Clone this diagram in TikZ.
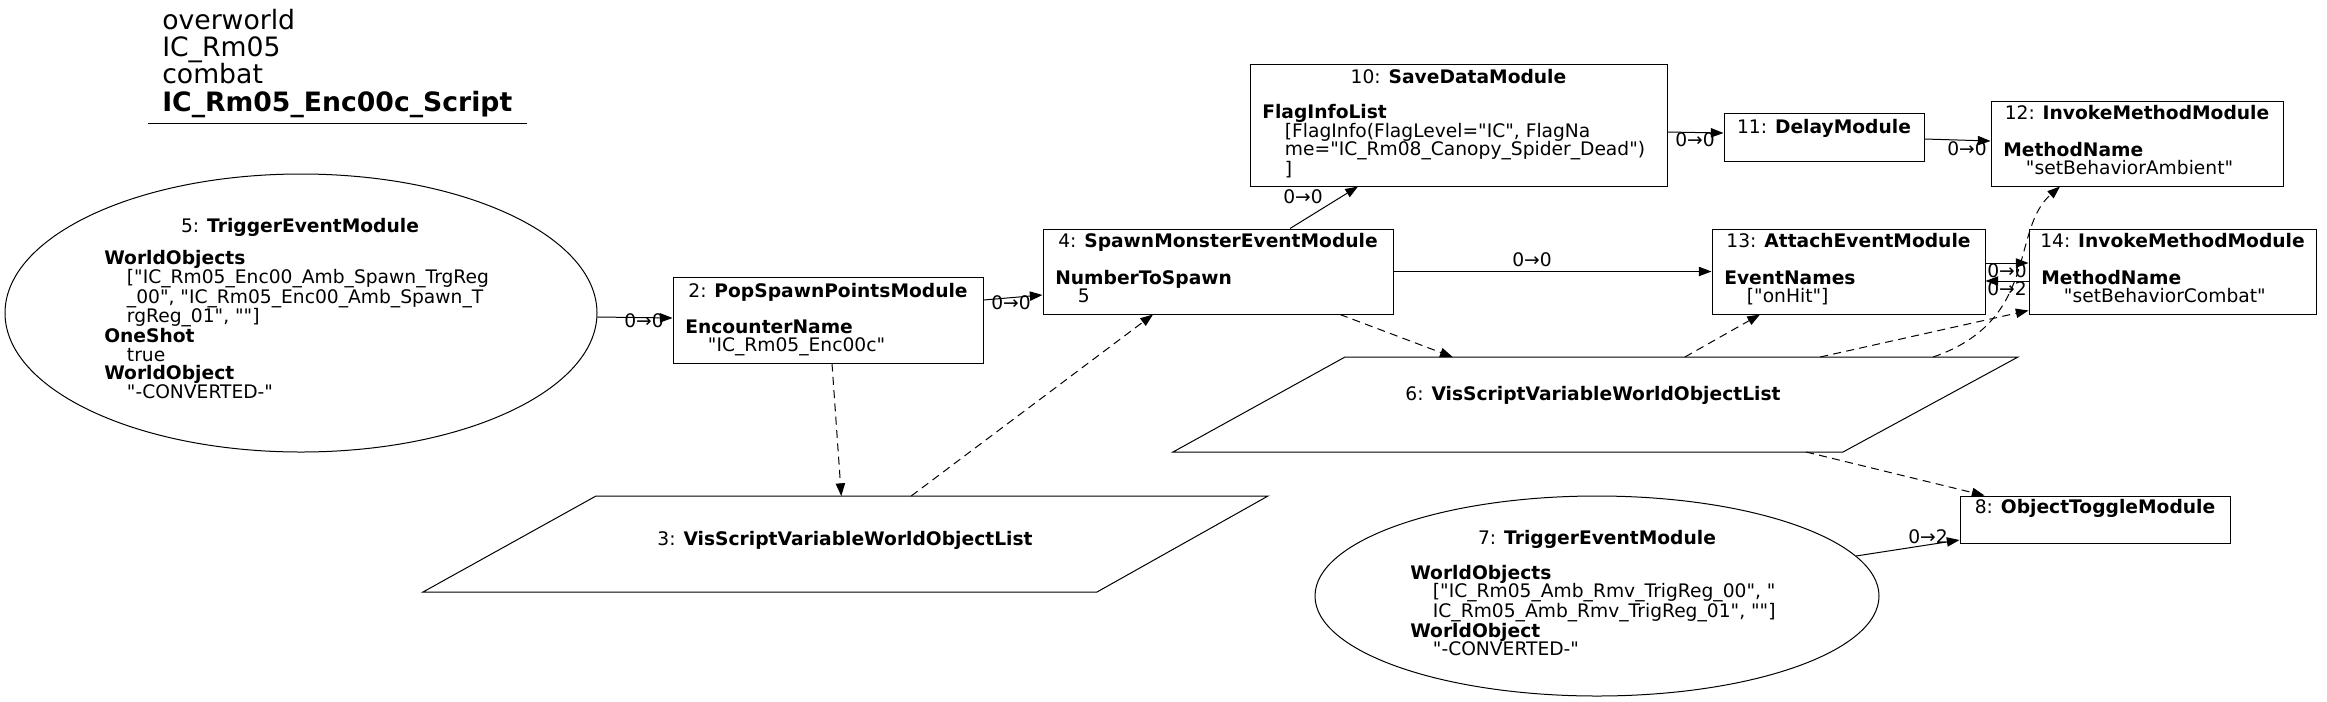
\documentclass[tikz,border=0pt]{standalone}
\usepackage{fontspec}
\setmainfont{DejaVu Sans}[Ligatures=TeXOff]
\usetikzlibrary{arrows.meta,calc,shapes.geometric}
\tikzset{
  shp/.style={draw, line width=0.75pt, inner sep=0pt},
  box/.style={shp, rectangle},
  oval/.style={shp, ellipse},
  txt/.style={inner sep=0pt, font=\fontsize{14pt}{13.85pt}\selectfont},
  body/.style={txt, align=left, anchor=base west},
  ttl/.style={txt, anchor=base},
  lbl/.style={txt, anchor=base},
  edge/.style={draw, line width=0.75pt, -{Triangle[length=9.5pt,width=7pt]}},
  dedge/.style={edge, dash pattern=on 6pt off 4pt},
}
\newcommand\ind{\hspace*{17pt}}
\begin{document}
\begin{tikzpicture}[x=0.75pt,y=-0.75pt]
\useasboundingbox (0,0) rectangle (2327,701);
% title (anchor = baseline of last line)
\node[anchor=base west, inner sep=0pt, align=left, font=\fontsize{20pt}{20.5pt}\selectfont] (title) at (162,111)
  {overworld\\IC\_Rm05\\combat\\\textbf{IC\_Rm05\_Enc00c\_Script}};
\draw[line width=0.75pt] (148,123) -- (527,123);

% node 5
\node[oval, minimum width=592*0.75pt, minimum height=278*0.75pt] (n5) at (301,313) {};
\node[ttl] (n5t) at (300,232) {5: \textbf{TriggerEventModule}};
\node[body] (n5b) at (104,398.3) {\textbf{WorldObjects}\\\ind["IC\_Rm05\_Enc00\_Amb\_Spawn\_TrgReg\\\ind\_00", "IC\_Rm05\_Enc00\_Amb\_Spawn\_T\\\ind rgReg\_01", ""]\\\textbf{OneShot}\\\ind true\\\textbf{WorldObject}\\\ind"-CONVERTED-"};

% node 2
\node[box, minimum width=310*0.75pt, minimum height=86*0.75pt] (n2) at (828,320) {};
\node[ttl] (n2t) at (828,297) {2: \textbf{PopSpawnPointsModule}};
\node[body] (n2b) at (685,351.5) {\textbf{EncounterName}\\\ind"IC\_Rm05\_Enc00c"};

% node 4
\node[box, minimum width=350*0.75pt, minimum height=85*0.75pt] (n4) at (1218,271.5) {};
\node[ttl] (n4t) at (1218,247) {4: \textbf{SpawnMonsterEventModule}};
\node[body] (n4b) at (1055,302.5) {\textbf{NumberToSpawn}\\\ind 5};

% node 10
\node[box, minimum width=417*0.75pt, minimum height=122*0.75pt] (n10) at (1458.5,125) {};
\node[ttl] (n10t) at (1458.5,83) {10: \textbf{SaveDataModule}};
\node[body] (n10b) at (1262,175.4) {\textbf{FlagInfoList}\\\ind[FlagInfo(FlagLevel="IC", FlagNa\\\ind me="IC\_Rm08\_Canopy\_Spider\_Dead")\\\ind]};

% node 11
\node[box, minimum width=200*0.75pt, minimum height=48*0.75pt] (n11) at (1824,137) {};
\node[ttl] (n11t) at (1824,133) {11: \textbf{DelayModule}};

% node 12
\node[box, minimum width=292*0.75pt, minimum height=85*0.75pt] (n12) at (2137,143.5) {};
\node[ttl] (n12t) at (2137,119) {12: \textbf{InvokeMethodModule}};
\node[body] (n12b) at (2003,174.5) {\textbf{MethodName}\\\ind"setBehaviorAmbient"};

% node 13
\node[box, minimum width=273*0.75pt, minimum height=85*0.75pt] (n13) at (1848.5,271.5) {};
\node[ttl] (n13t) at (1848.5,247) {13: \textbf{AttachEventModule}};
\node[body] (n13b) at (1724,302.5) {\textbf{EventNames}\\\ind["onHit"]};

% node 14
\node[box, minimum width=287*0.75pt, minimum height=85*0.75pt] (n14) at (2172.5,271.5) {};
\node[ttl] (n14t) at (2172.5,247) {14: \textbf{InvokeMethodModule}};
\node[body] (n14b) at (2041,302.5) {\textbf{MethodName}\\\ind"setBehaviorCombat"};

% node 8
\node[box, minimum width=270*0.75pt, minimum height=47*0.75pt] (n8) at (2095,519.5) {};
\node[ttl] (n8t) at (2095,513) {8: \textbf{ObjectToggleModule}};

% node 7
\node[oval, minimum width=564*0.75pt, minimum height=200*0.75pt] (n7) at (1597,596) {};
\node[ttl] (n7t) at (1597,544) {7: \textbf{TriggerEventModule}};
\node[body] (n7b) at (1410,655.9) {\textbf{WorldObjects}\\\ind["IC\_Rm05\_Amb\_Rmv\_TrigReg\_00", "\\\ind IC\_Rm05\_Amb\_Rmv\_TrigReg\_01", ""]\\\textbf{WorldObject}\\\ind"-CONVERTED-"};

% node 3 (parallelogram)
\coordinate (p3a) at (423,592);
\coordinate (p3b) at (1097,592);
\coordinate (p3c) at (1268,496);
\coordinate (p3d) at (596,496);
\draw[line width=0.75pt] (p3a) -- (p3b) -- (p3c) -- (p3d) -- cycle;
\node[ttl] (n3) at (845,545) {3: \textbf{VisScriptVariableWorldObjectList}};

% node 6 (parallelogram)
\coordinate (p6a) at (1173,452);
\coordinate (p6b) at (1843,452);
\coordinate (p6c) at (2018,357);
\coordinate (p6d) at (1345,357);
\draw[line width=0.75pt] (p6a) -- (p6b) -- (p6c) -- (p6d) -- cycle;
\node[ttl] (n6) at (1593,400) {6: \textbf{VisScriptVariableWorldObjectList}};

% solid edges
\draw[edge] (n5) -- ($(n2.west)+(0,-2)$);
\node[lbl] (l1) at (644,327) {0→0};
\draw[edge] ($(n2.east)+(0,-20)$) -- ($(n4.west)+(0,23.5)$);
\node[lbl] (l2) at (1011,309) {0→0};
\draw[edge] ($(n4.north)+(72,0)$) -- ($(n10.south)+(-100.5,0)$);
\node[lbl] (l3) at (1303,203) {0→0};
\draw[edge] ($(n10.east)+(0,7)$) -- ($(n11.west)+(0,-4)$);
\node[lbl] (l4) at (1695,146) {0→0};
\draw[edge] ($(n11.east)+(0,2)$) -- ($(n12.west)+(0,-2.5)$);
\node[lbl] (l5) at (1967,155) {0→0};
\draw[edge] (n4.east) -- (n13.west);
\node[lbl] (l6) at (1532,266) {0→0};
\draw[edge] ($(n13.east)+(0,-8.5)$) -- ($(n14.west)+(0,-8.5)$);
\node[lbl] (l7) at (2007,277) {0→0};
\draw[edge] ($(n14.west)+(0,9.5)$) -- ($(n13.east)+(0,9.5)$);
\node[lbl] (l8) at (2007,295) {0→2};
\draw[edge] (n7) -- ($(n8.west)+(0,20.5)$);
\node[lbl] (l9) at (1928,543) {0→2};

% dashed edges
\draw[dedge] ($(n2.south)+(4,0)$) -- ($(p3d)!0.365!(p3c)$);
\draw[dedge] ($(p3d)!0.469!(p3c)$) -- ($(n4.south)+(-65,0)$);
\draw[dedge] ($(n4.south)+(122,0)$) -- ($(p6d)!0.160!(p6c)$);
\draw[dedge] ($(p6d)!0.505!(p6c)$) -- ($(n13.south)+(-88.5,0)$);
\draw[dedge] ($(p6d)!0.706!(p6c)$) -- ($(n14.south west)+(0,-4)$);
\draw[dedge] ($(p6d)!0.874!(p6c)$) .. controls (2040,320) and (2010,230) .. ($(n12.south)+(-77,0)$);
\draw[dedge] ($(p6a)!0.945!(p6b)$) -- ($(n8.north west)+(25,0)$);
\end{tikzpicture}
\end{document}
